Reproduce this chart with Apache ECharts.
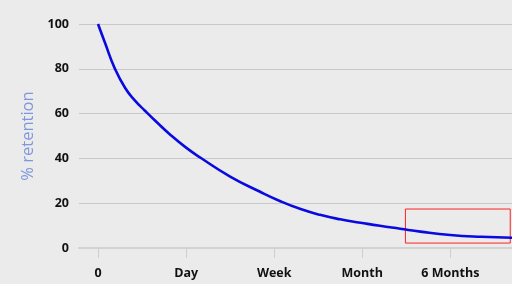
<!DOCTYPE html>
<html>
<head>
<meta charset="utf-8">
<script src="https://cdn.jsdelivr.net/npm/echarts@6/dist/echarts.min.js"></script>
<style>
html,body{margin:0;padding:0;background:#ebebeb;}
#c{width:512px;height:284px;}
</style>
</head>
<body>
<div id="c"></div>
<script>
// Data
const tickPositions = [0, 1, 2, 3, 4];
const tickLabels = ['0', 'Day', 'Week', 'Month', '6 Months'];
const timeX = [0, 0.08, 0.19, 0.31, 0.42, 0.53, 0.65, 0.82, 1.0, 1.16, 1.5, 1.84, 2.07, 2.3, 2.52, 2.75, 2.98, 3.2, 3.43, 3.66, 4.0, 4.35, 4.7];
const retention = [100, 91.5, 80.2, 71.3, 65.8, 61.4, 56.8, 50.6, 44.8, 40.4, 31.9, 25.1, 20.9, 17.4, 14.8, 12.8, 11.3, 9.9, 8.6, 7.3, 5.8, 5.0, 4.6];
const highlightX = [3.49, 4.68];
const highlightY = [2.2, 17.4];

const chart = echarts.init(document.getElementById('c'), null, {renderer: 'canvas'});
const font = '"Open Sans", sans-serif';
chart.setOption({
  backgroundColor: '#ebebeb',
  animation: false,
  grid: {left: 79, right: 0, top: 24, bottom: 36, containLabel: false},
  xAxis: {
    type: 'value',
    min: -0.216,
    max: 4.7,
    axisLine: {show: true, lineStyle: {color: '#d2d2d2', width: 2}},
    axisTick: {show: true, customValues: tickPositions, length: 10, lineStyle: {color: '#cfcfcf', width: 1}},
    axisLabel: {
      customValues: tickPositions,
      margin: 19,
      color: '#111',
      fontFamily: font,
      fontWeight: 'bold',
      fontSize: 12.5,
      formatter: v => tickLabels[tickPositions.indexOf(Math.round(v))]
    },
    splitLine: {show: false}
  },
  yAxis: {
    type: 'value',
    min: 0, max: 100, interval: 20,
    name: '% retention',
    nameLocation: 'middle',
    nameGap: 42,
    nameTextStyle: {color: '#7f97dc', fontFamily: font, fontSize: 16.5},
    axisLine: {show: false},
    axisTick: {show: false},
    axisLabel: {margin: 10, color: '#111', fontFamily: font, fontWeight: 'bold', fontSize: 12.5},
    splitLine: {lineStyle: {color: '#c8c8c8', width: 1}}
  },
  series: [{
    type: 'line',
    data: timeX.map((x, i) => [x, retention[i]]),
    smooth: 0.5,
    showSymbol: false,
    lineStyle: {color: '#0a0ae0', width: 2.6},
    markArea: {
      silent: true,
      itemStyle: {color: 'rgba(0,0,0,0)', borderColor: '#ff2020', borderWidth: 1},
      data: [[{coord: [highlightX[0], highlightY[1]]}, {coord: [highlightX[1], highlightY[0]]}]]
    }
  }]
});
</script>
</body>
</html>
